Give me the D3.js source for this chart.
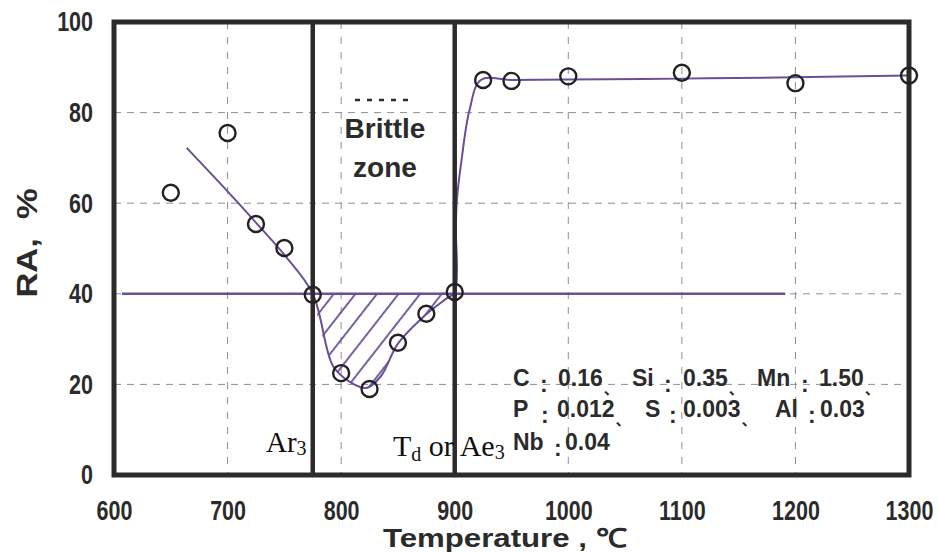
<!DOCTYPE html>
<html>
<head>
<meta charset="utf-8">
<script src="https://cdn.jsdelivr.net/npm/d3@7"></script>
<style>
  body { margin: 0; background: #fff; }
  svg { display: block; }
</style>
</head>
<body>
<div id="fig"></div>
<script>
// measured points (RA, %) vs temperature
var temps = [650, 700, 725, 750, 775, 800, 825, 850, 875, 900, 925, 950, 1000, 1100, 1200, 1300];
var ra = [62.3, 75.5, 55.4, 50.1, 39.8, 22.5, 19.0, 29.2, 35.6, 40.4, 87.2, 87.0, 88.0, 88.8, 86.5, 88.2];

// hand drawn trend line
var curve_t = [664, 700, 725, 750, 775, 793, 808, 822, 835, 850, 875, 893, 900, 901, 902, 906, 913, 923, 950, 1000, 1100, 1200, 1300];
var curve_ra = [72.2, 62.6, 55.7, 48.6, 40.0, 24.0, 20.5, 19.2, 21.8, 29.0, 35.5, 39.0, 40.3, 55.0, 61.0, 69.5, 80.5, 87.2, 87.2, 87.3, 87.5, 87.8, 88.2];

// 40 % criterion line
var ref_t = [607, 1191];
var ref_ra = 40;

// transformation temperatures
var marker_t = [775, 900];

var x_ticks = [600, 700, 800, 900, 1000, 1100, 1200, 1300];
var y_ticks = [0, 20, 40, 60, 80, 100];
var x_grid = [700, 800, 1000, 1100, 1200];
var y_grid = [20, 40, 60, 80];

// chemical composition
var elements = ["C", "Si", "Mn", "P", "S", "Al", "Nb"];
var contents = ["0.16", "0.35", "1.50", "0.012", "0.003", "0.03", "0.04"];

var fig = {
    width: 938,
    height: 554,
    x0: 114, x1: 909,
    y0: 475, y1: 22,
    ink: "#2b2b2b",
    purple: "#6a4f98",
    grid: "#8a8fa0",

    svg: null,
    x: null,
    y: null,

    init: function() {
        this.svg = d3.select("#fig").append("svg")
            .attr("width", this.width)
            .attr("height", this.height)
            .attr("font-family", "'Liberation Sans', Arial, sans-serif");
        this.x = d3.scaleLinear().domain([600, 1300]).range([this.x0, this.x1]);
        this.y = d3.scaleLinear().domain([0, 100]).range([this.y0, this.y1]);
    },

    draw: function() {
        this._grid();
        this._hatch();
        this._lines();
        this._frame();
        this._points();
        this._axes();
        this._labels();
        this._composition();
    },

    _grid: function() {
        var x = this.x, y = this.y, g = this.svg.append("g");
        g.selectAll("line.h").data(y_grid).enter().append("line")
            .attr("x1", this.x0).attr("x2", this.x1)
            .attr("y1", d => y(d)).attr("y2", d => y(d))
            .attr("stroke", this.grid).attr("stroke-width", 1)
            .attr("stroke-dasharray", "7,6");
        g.selectAll("line.v").data(x_grid).enter().append("line")
            .attr("x1", d => x(d)).attr("x2", d => x(d))
            .attr("y1", this.y1).attr("y2", this.y0)
            .attr("stroke", this.grid).attr("stroke-width", 1)
            .attr("stroke-dasharray", "7,8");
    },

    _hatch: function() {
        var x = this.x, y = this.y;
        var defs = this.svg.append("defs");
        var pat = defs.append("pattern")
            .attr("id", "hatch")
            .attr("patternUnits", "userSpaceOnUse")
            .attr("width", 17).attr("height", 17)
            .attr("patternTransform", "rotate(38)");
        pat.append("line")
            .attr("x1", 2).attr("x2", 2).attr("y1", 0).attr("y2", 17)
            .attr("stroke", this.purple).attr("stroke-width", 1.8);

        var pts = [];
        curve_t.forEach(function(t, i) {
            if (t >= marker_t[0] && t <= marker_t[1]) pts.push([t, curve_ra[i]]);
        });
        var line = d3.line().x(d => x(d[0])).y(d => y(d[1])).curve(d3.curveCatmullRom.alpha(0.5));
        this.svg.append("path")
            .attr("d", line(pts) + "Z")
            .attr("fill", "url(#hatch)")
            .attr("stroke", "none");
    },

    _lines: function() {
        var x = this.x, y = this.y;
        this.svg.append("line")
            .attr("x1", x(ref_t[0])).attr("x2", x(ref_t[1]))
            .attr("y1", y(ref_ra)).attr("y2", y(ref_ra))
            .attr("stroke", this.purple).attr("stroke-width", 2.4);

        var line = d3.line()
            .x(d => x(d[0])).y(d => y(d[1]))
            .curve(d3.curveCatmullRom.alpha(0.5));
        this.svg.append("path")
            .attr("d", line(curve_t.map((t, i) => [t, curve_ra[i]])))
            .attr("fill", "none")
            .attr("stroke", this.purple)
            .attr("stroke-width", 2);

        // faded text remains above "Brittle"
        this.svg.append("line")
            .attr("x1", 355).attr("x2", 413).attr("y1", 100).attr("y2", 100)
            .attr("stroke", this.ink).attr("stroke-width", 2.5)
            .attr("stroke-dasharray", "5,7");
    },

    _frame: function() {
        var x = this.x, y = this.y;
        this.svg.selectAll("line.marker").data(marker_t).enter().append("line")
            .attr("x1", d => x(d)).attr("x2", d => x(d))
            .attr("y1", this.y1).attr("y2", this.y0)
            .attr("stroke", this.ink).attr("stroke-width", 4.5);
        this.svg.append("rect")
            .attr("x", this.x0).attr("y", this.y1)
            .attr("width", this.x1 - this.x0).attr("height", this.y0 - this.y1)
            .attr("fill", "none").attr("stroke", this.ink).attr("stroke-width", 5);
    },

    _points: function() {
        var x = this.x, y = this.y;
        this.svg.append("g").selectAll("circle")
            .data(temps).enter().append("circle")
            .attr("cx", d => x(d))
            .attr("cy", (d, i) => y(ra[i]))
            .attr("r", 8)
            .attr("fill", "none")
            .attr("stroke", "#222")
            .attr("stroke-width", 2.4);
    },

    _axes: function() {
        var ink = this.ink;
        var sx = 0.86, sy = 1.12;
        var ax = this.svg.append("g")
            .attr("transform", "translate(0," + this.y0 + ")")
            .call(d3.axisBottom(this.x).tickValues(x_ticks).tickFormat(d3.format("d"))
                .tickSize(0).tickPadding(25));
        var ay = this.svg.append("g")
            .attr("transform", "translate(" + this.x0 + ",0)")
            .call(d3.axisLeft(this.y).tickValues(y_ticks).tickSize(0).tickPadding(21));
        [ax, ay].forEach(function(a) {
            a.select(".domain").remove();
            a.selectAll("text")
                .attr("font-family", "'Liberation Sans', Arial, sans-serif")
                .attr("font-weight", "bold")
                .attr("font-size", 25)
                .attr("fill", ink)
                .attr("transform", "scale(" + sx + "," + sy + ")");
        });
        ax.selectAll("text").attr("y", 25 / sy);
        ay.selectAll("text").attr("x", -21 / sx);

        this.svg.append("text")
            .attr("transform", "translate(37,243) rotate(-90) scale(1.15,1)")
            .attr("text-anchor", "middle")
            .attr("font-weight", "bold").attr("font-size", 30)
            .attr("fill", ink)
            .text("RA,\u00a0\u00a0%");

        this.svg.append("text")
            .attr("transform", "translate(383,547) scale(1.2,1)")
            .attr("font-weight", "bold").attr("font-size", 26)
            .attr("fill", ink)
            .text("Temperature , \u2103");
    },

    _labels: function() {
        var ink = this.ink;
        var t = this.svg.append("text")
            .attr("x", 385).attr("text-anchor", "middle")
            .attr("font-weight", "bold").attr("font-size", 28).attr("fill", ink);
        t.append("tspan").attr("x", 385).attr("y", 138).text("Brittle");
        t.append("tspan").attr("x", 385).attr("y", 177).text("zone");

        var serif = "'Liberation Serif', 'Times New Roman', serif";
        var ar = this.svg.append("text")
            .attr("x", 266).attr("y", 452)
            .attr("font-family", serif).attr("font-size", 29).attr("fill", "#111");
        ar.append("tspan").text("Ar");
        ar.append("tspan").attr("font-size", 20).attr("dy", 3).text("3");

        var td = this.svg.append("text")
            .attr("x", 393).attr("y", 456)
            .attr("font-family", serif).attr("font-size", 30).attr("fill", "#111");
        td.append("tspan").text("T");
        td.append("tspan").attr("font-size", 20).attr("dy", 5).text("d");
        td.append("tspan").attr("dy", -5).text("\u00a0or Ae");
        td.append("tspan").attr("font-size", 20).attr("dy", 3).text("3");
    },

    _composition: function() {
        var ink = this.ink;
        // x positions of element, colon and value for each entry, then baseline
        var pos = [
            [513, 540, 558, 386], [632, 664, 683, 386], [757, 801, 819, 386],
            [513, 541, 557, 417], [645, 669, 683, 417], [775, 808, 820, 417],
            [513, 554, 565, 450]
        ];
        var commas = [true, true, true, true, true, false, false];
        var g = this.svg.append("g")
            .attr("font-weight", "bold").attr("font-size", 23).attr("fill", ink);
        elements.forEach(function(el, i) {
            var p = pos[i];
            g.append("text").attr("x", p[0]).attr("y", p[3]).text(el);
            g.append("text").attr("x", p[1]).attr("y", p[3] + 6).text(":");
            var v = g.append("text").attr("x", p[2]).attr("y", p[3]).text(contents[i]);
            if (commas[i]) {
                var w = v.node().getComputedTextLength();
                g.append("text").attr("x", p[2] + w + 1).attr("y", p[3] + 8)
                    .attr("font-size", 15)
                    .attr("font-family", "'Noto Sans CJK SC', sans-serif")
                    .text("\u3001");
            }
        });
    }
};

fig.init();
fig.draw();
</script>
</body>
</html>
